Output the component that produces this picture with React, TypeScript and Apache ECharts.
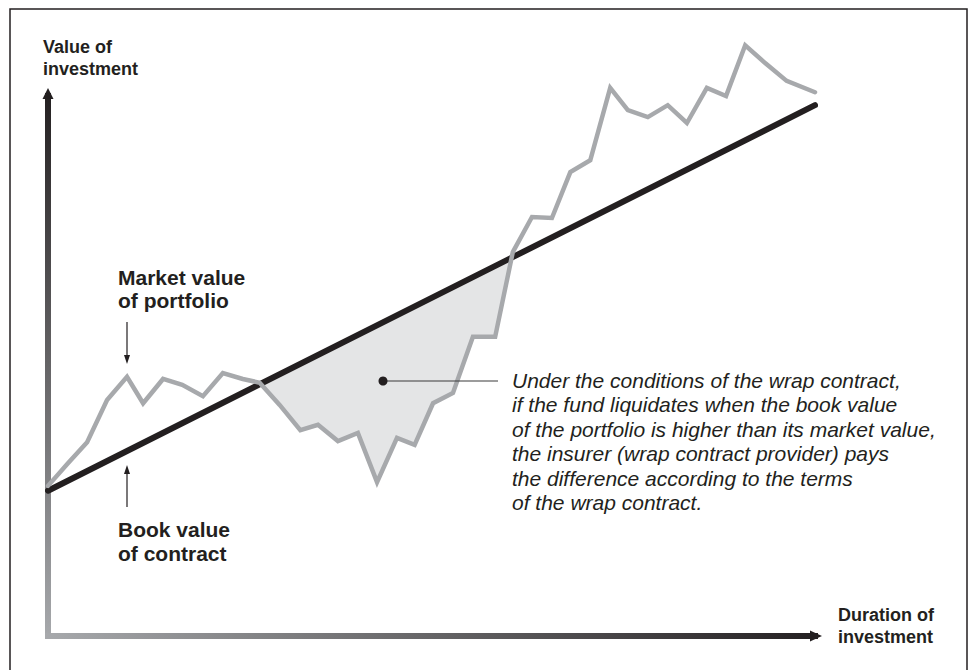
import React, { useEffect, useRef } from "react";
import * as echarts from "echarts";

// Duration of investment (0 = start, 100 = end)
const periods = [
  0, 2.6, 5.1, 7.7, 10.3, 12.4, 15.0, 17.5, 20.2, 22.8, 25.4, 27.6, 30.2, 32.9,
  35.2, 37.8, 40.4, 42.9, 45.5, 47.8, 50.2, 52.8, 55.4, 58.3, 60.6, 63.1, 65.7,
  68.1, 70.7, 73.3, 75.6, 78.2, 80.8, 83.3, 85.9, 88.4, 90.9, 93.5, 96.3, 100,
];
// Market value of portfolio (relative units)
const marketValue = [
  27.8, 32.0, 35.9, 43.7, 48.0, 43.1, 47.6, 46.5, 44.4, 48.7, 47.6, 46.9, 42.8,
  38.1, 39.1, 36.1, 37.6, 28.5, 36.7, 35.4, 43.1, 45.0, 55.4, 55.4, 71.1, 77.6,
  77.4, 85.9, 88.1, 101.5, 97.4, 96.1, 98.3, 95.0, 101.5, 100.0, 109.4, 106.1,
  102.8, 100.7,
];
// Book value of contract: straight line
const bookPeriods = [0, 100];
const bookValue = [26.9, 98.3];

const yAxisTitle = "Value of\ninvestment";
const xAxisTitle = "Duration of\ninvestment";
const marketLabel = "Market value\nof portfolio";
const bookLabel = "Book value\nof contract";
const noteLines = [
  "Under the conditions of the wrap contract,",
  "if the fund liquidates when the book value",
  "of the portfolio is higher than its market value,",
  "the insurer (wrap contract provider) pays",
  "the difference according to the terms",
  "of the wrap contract.",
];

const INK = "#231f20";
const GREY = "#a7a9ac";
const FONT = '"Liberation Sans", Arial, Helvetica, sans-serif';

function bookAt(t: number): number {
  const [t0, t1] = bookPeriods;
  const [v0, v1] = bookValue;
  return v0 + ((t - t0) / (t1 - t0)) * (v1 - v0);
}

// Region where the market value is below the book value
function shortfallPolygon(): number[][] {
  const pts: number[][] = [];
  for (let i = 0; i < periods.length - 1; i++) {
    const t0 = periods[i], t1 = periods[i + 1];
    const m0 = marketValue[i], m1 = marketValue[i + 1];
    const d0 = m0 - bookAt(t0);
    const d1 = m1 - bookAt(t1);
    if (d0 < 0) pts.push([t0, m0]);
    if (d0 < 0 !== d1 < 0) {
      const f = d0 / (d0 - d1);
      const tc = t0 + f * (t1 - t0);
      pts.push([tc, bookAt(tc)]);
    }
  }
  const last = periods.length - 1;
  if (marketValue[last] - bookAt(periods[last]) < 0) pts.push([periods[last], marketValue[last]]);
  return pts;
}

export default function App() {
  const ref = useRef<HTMLDivElement>(null);

  useEffect(() => {
    document.body.style.margin = "0";
    if (!ref.current) return;
    const chart = echarts.init(ref.current, undefined, { renderer: "svg" });
    const shade = shortfallPolygon();

    const textStyle = (size: number, lh: number, italic = false, bold = true) => ({
      fontFamily: FONT,
      fontSize: size,
      fontWeight: bold ? "bold" : "normal",
      fontStyle: italic ? "italic" : "normal",
      lineHeight: lh,
      fill: INK,
      align: "left",
      verticalAlign: "top",
    });

    chart.setOption({
      animation: false,
      backgroundColor: "#ffffff",
      grid: { left: 48, top: 96, width: 767, height: 540, containLabel: false },
      xAxis: {
        type: "value",
        min: 0,
        max: 100,
        axisLine: {
          show: true,
          onZero: false,
          symbol: ["none", "none"],
          lineStyle: {
            width: 6,
            cap: "square",
            color: new echarts.graphic.LinearGradient(
              44, 0, 822, 0,
              [
                { offset: 0, color: GREY },
                { offset: 1, color: INK },
              ],
              true
            ),
          },
        },
        axisTick: { show: false },
        axisLabel: { show: false },
        splitLine: { show: false },
      },
      yAxis: {
        type: "value",
        min: 0,
        max: 100,
        axisLine: {
          show: true,
          onZero: false,
          symbol: ["none", "none"],
          lineStyle: {
            width: 6,
            cap: "square",
            color: new echarts.graphic.LinearGradient(
              0, 88, 0, 640,
              [
                { offset: 0, color: INK },
                { offset: 1, color: GREY },
              ],
              true
            ),
          },
        },
        axisTick: { show: false },
        axisLabel: { show: false },
        splitLine: { show: false },
      },
      series: [
        {
          type: "custom",
          name: "Shortfall",
          data: [[0, 0]],
          clip: false,
          silent: true,
          z: 1,
          renderItem: (_params: any, api: any) => ({
            type: "polygon",
            shape: { points: shade.map((p) => api.coord(p)) },
            style: { fill: "#e4e5e6", stroke: "none" },
          }),
        },
        {
          type: "line",
          name: "Book value of contract",
          data: bookPeriods.map((t, i) => [t, bookValue[i]]),
          showSymbol: false,
          symbol: "none",
          clip: false,
          z: 2,
          lineStyle: { color: INK, width: 6, cap: "round" },
        },
        {
          type: "line",
          name: "Market value of portfolio",
          data: periods.map((t, i) => [t, marketValue[i]]),
          showSymbol: false,
          symbol: "none",
          clip: false,
          z: 3,
          lineStyle: { color: GREY, width: 4.5, join: "miter", cap: "round" },
        },
      ],
      graphic: [
        {
          type: "rect",
          silent: true,
          z: 100,
          shape: { x: 10, y: 9, width: 957, height: 700 },
          style: { fill: "none", stroke: INK, lineWidth: 1.5 },
        },
        {
          type: "polygon",
          silent: true,
          z: 100,
          shape: { points: [[48, 88], [42.5, 99], [53.5, 99]] },
          style: { fill: INK },
        },
        {
          type: "polygon",
          silent: true,
          z: 100,
          shape: { points: [[822, 636], [810, 630.5], [810, 641.5]] },
          style: { fill: INK },
        },
        { type: "text", z: 100, x: 43, y: 36, silent: true, style: { text: yAxisTitle, ...textStyle(18, 22) } },
        { type: "text", z: 100, x: 838, y: 604, silent: true, style: { text: xAxisTitle, ...textStyle(18, 22) } },
        { type: "text", z: 100, x: 118, y: 266, silent: true, style: { text: marketLabel, ...textStyle(21, 23) } },
        { type: "text", z: 100, x: 118, y: 517, silent: true, style: { text: bookLabel, ...textStyle(21, 24) } },
        {
          type: "text",
          z: 100,
          x: 512,
          y: 368,
          silent: true,
          style: { text: noteLines.join("\n"), ...textStyle(21, 24.5, true, false) },
        },
        // pointer arrows
        {
          type: "line",
          silent: true,
          z: 100,
          shape: { x1: 127, y1: 322, x2: 127, y2: 358 },
          style: { stroke: INK, lineWidth: 1.2 },
        },
        {
          type: "polygon",
          silent: true,
          z: 100,
          shape: { points: [[127, 364], [124, 355], [130, 355]] },
          style: { fill: INK },
        },
        {
          type: "line",
          silent: true,
          z: 100,
          shape: { x1: 127, y1: 507, x2: 127, y2: 471 },
          style: { stroke: INK, lineWidth: 1.2 },
        },
        {
          type: "polygon",
          silent: true,
          z: 100,
          shape: { points: [[127, 465], [124, 474], [130, 474]] },
          style: { fill: INK },
        },
        // callout dot and leader
        {
          type: "line",
          silent: true,
          z: 100,
          shape: { x1: 383, y1: 381, x2: 498, y2: 381 },
          style: { stroke: "#3a3a3a", lineWidth: 1.2 },
        },
        {
          type: "circle",
          silent: true,
          z: 101,
          shape: { cx: 383, cy: 381, r: 4.5 },
          style: { fill: INK },
        },
      ],
    });

    return () => chart.dispose();
  }, []);

  return <div ref={ref} style={{ width: 972, height: 670 }} />;
}
